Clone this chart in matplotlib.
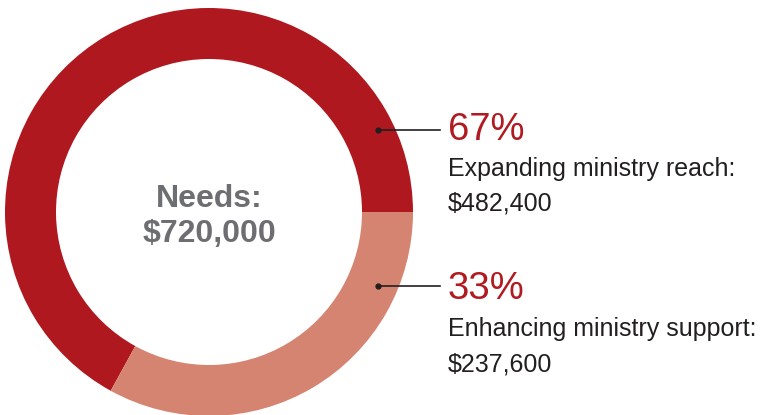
import matplotlib
matplotlib.use("Agg")
import matplotlib.pyplot as plt

labels = ["Expanding ministry reach:", "Enhancing ministry support:"]
amounts = [482400, 237600]
amount_labels = ["$482,400", "$237,600"]
percents = ["67%", "33%"]
colors = ["#b01820", "#d48470"]
total_label = "$720,000"

W, H = 767, 415
fig = plt.figure(figsize=(W / 100, H / 100), dpi=100)
ax = fig.add_axes([0, 0, 1, 1])

cx, cy, R = 209, H - 212, 204
ax.pie(amounts, colors=colors, startangle=0, counterclock=True,
       center=(cx, cy), radius=R, frame=True,
       wedgeprops=dict(width=R * 0.25, linewidth=0))
ax.set_xlim(0, W)
ax.set_ylim(0, H)
ax.set_aspect("equal")
ax.axis("off")

font = "Liberation Sans"
ax.text(cx, H - 207, "Needs:", ha="center", va="baseline", fontsize=23,
        fontweight="bold", color="#6d6e71", family=font)
ax.text(cx, H - 242, total_label, ha="center", va="baseline", fontsize=23,
        fontweight="bold", color="#6d6e71", family=font)

anchors_y = [130, 286]
pct_base = [140, 299]
lab_base = [176, 336]
amt_base = [211, 371]
for i in range(2):
    y = H - anchors_y[i]
    ax.plot([378, 440], [y, y], color="#231f20", lw=1.2)
    ax.plot([378], [y], "o", color="#231f20", ms=3.5)
    ax.text(448, H - pct_base[i], percents[i], ha="left", va="baseline",
            fontsize=27.5, color="#b11a21", family=font)
    ax.text(448, H - lab_base[i], labels[i], ha="left", va="baseline",
            fontsize=18, color="#231f20", family=font)
    ax.text(448, H - amt_base[i], amount_labels[i], ha="left", va="baseline",
            fontsize=18, color="#231f20", family=font)

fig.savefig("out.png", dpi=100)
